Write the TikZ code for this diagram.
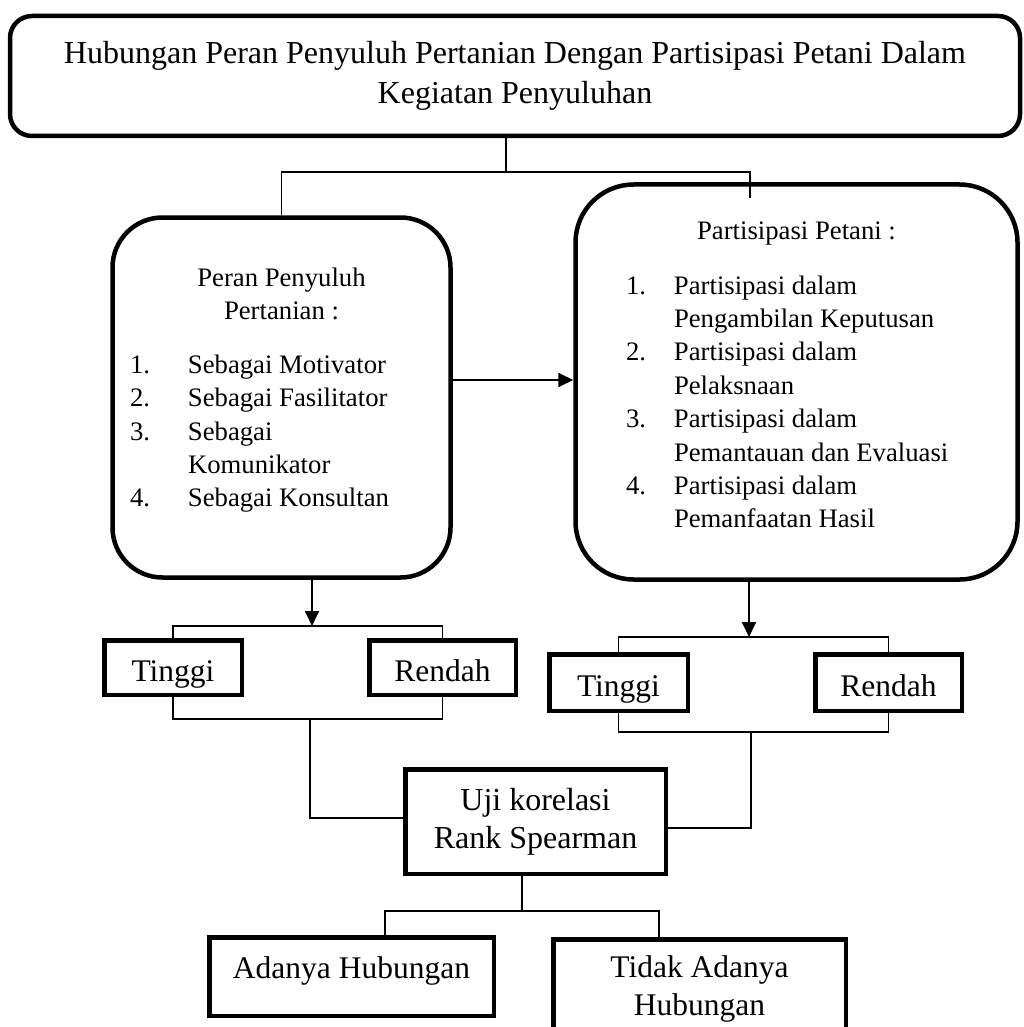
\documentclass[tikz,border=0pt]{standalone}
\usepackage{fontspec}
\setmainfont{Liberation Serif}
\usetikzlibrary{arrows.meta}

\begin{document}
\begin{tikzpicture}[x=1pt, y=-1pt,
kotak/.style = {draw, line width=4.5pt, align=center, inner sep=0pt},
bulat/.style = {rounded corners=#1},
hasil/.style = {font=\fontsize{31.5}{38}\selectfont},
nilai/.style = {hasil, text height=27pt, text depth=0pt},
isi/.style = {font=\fontsize{26.7}{33.4}\selectfont},
garis/.style = {line width=1.8pt},
panah/.style = {garis, -{Triangle[length=15pt, width=14pt]}}]

\fill[white] (0,0) rectangle (1024,1027);
\useasboundingbox (0,0) rectangle (1024,1027);

\node[kotak, bulat=22pt, minimum width=1010pt, minimum height=120pt,
      font=\fontsize{32}{40}\selectfont] (judul) at (515,76)
  {Hubungan Peran Penyuluh Pertanian Dengan Partisipasi Petani Dalam\\Kegiatan Penyuluhan};

\node[kotak, bulat=50pt, isi, inner sep=17.5pt] (peran) at (281.5,397.5)
  {\parbox[c][325pt][t]{303pt}{\vspace*{33pt}{\centering Peran Penyuluh\\Pertanian :\par}\vspace{20pt}
   \makebox[58pt][l]{1.}Sebagai Motivator\\
   \makebox[58pt][l]{2.}Sebagai Fasilitator\\
   \makebox[58pt][l]{3.}Sebagai\\
   \hspace*{58pt}Komunikator\\
   \makebox[58pt][l]{4.}Sebagai Konsultan}};

\node[kotak, bulat=58pt, isi, inner xsep=50.5pt, inner ysep=17.5pt] (partisipasi) at (796.5,382)
  {\parbox[c][360pt][t]{341pt}{\vspace*{20pt}{\centering Partisipasi Petani :\par}\vspace{21pt}
   \makebox[48pt][l]{1.}Partisipasi dalam\\
   \hspace*{48pt}Pengambilan Keputusan\\
   \makebox[48pt][l]{2.}Partisipasi dalam\\
   \hspace*{48pt}Pelaksnaan\\
   \makebox[48pt][l]{3.}Partisipasi dalam\\
   \hspace*{48pt}Pemantauan dan Evaluasi\\
   \makebox[48pt][l]{4.}Partisipasi dalam\\
   \hspace*{48pt}Pemanfaatan Hasil}};

\node[kotak, nilai, minimum width=137.5pt, minimum height=54.5pt] (tinggiA) at (173,667.5) {Tinggi};
\node[kotak, nilai, minimum width=146.5pt, minimum height=54.5pt] (rendahA) at (442.5,667.5) {Rendah};
\node[kotak, nilai, minimum width=138.5pt, minimum height=56.5pt] (tinggiB) at (618.5,682.5) {Tinggi};
\node[kotak, nilai, minimum width=146.5pt, minimum height=56.5pt] (rendahB) at (888.5,682.5) {Rendah};

\node[kotak, minimum width=260.5pt, minimum height=104.5pt,
      font=\fontsize{32}{38}\selectfont] (uji) at (535.5,821.5) {Uji korelasi\\Rank Spearman};

\node[kotak, hasil, text height=16pt, text depth=13pt, minimum width=284.5pt, minimum height=78.5pt] (adanya) at (351.5,976.5) {Adanya Hubungan};
\node[kotak, hasil, minimum width=292.5pt, minimum height=98.5pt] (tidak) at (699.5,988.5) {Tidak Adanya\\Hubungan};

\coordinate (cabang) at (506,172);
\coordinate (ujungkanan) at (750,198);
\draw[garis] (judul.south -| cabang) -- (cabang);
\draw[garis] (peran.north) |- (cabang) -| (ujungkanan);

\draw[panah] ([yshift=17.5pt]peran.east) -- ([yshift=17.5pt]peran.east -| partisipasi.west);

\coordinate (pisahA) at (312,626);
\coordinate (gabungA) at (310,719);
\draw[panah] (peran.south -| pisahA) -- (pisahA);
\draw[garis] (tinggiA.north) |- (pisahA) -| (rendahA.north);
\draw[garis] (tinggiA.south) |- (gabungA) -| (rendahA.south);
\draw[garis] (gabungA) |- ([yshift=3.5pt]uji.west);

\coordinate (pisahB) at (749,637);
\coordinate (gabungB) at (751,732);
\draw[panah] (partisipasi.south -| pisahB) -- (pisahB);
\draw[garis] (tinggiB.north) |- (pisahB) -| (rendahB.north);
\draw[garis] (tinggiB.south) |- (gabungB) -| (rendahB.south);
\draw[garis] (gabungB) |- ([yshift=-6.5pt]uji.east);

\coordinate (pisahC) at (522,911);
\coordinate (kiriC) at (385,911);
\coordinate (kananC) at (659,911);
\draw[garis] (uji.south -| pisahC) -- (pisahC);
\draw[garis] (adanya.north -| kiriC) -- (kiriC) -- (kananC) -- (tidak.north -| kananC);
\end{tikzpicture}
\end{document}
